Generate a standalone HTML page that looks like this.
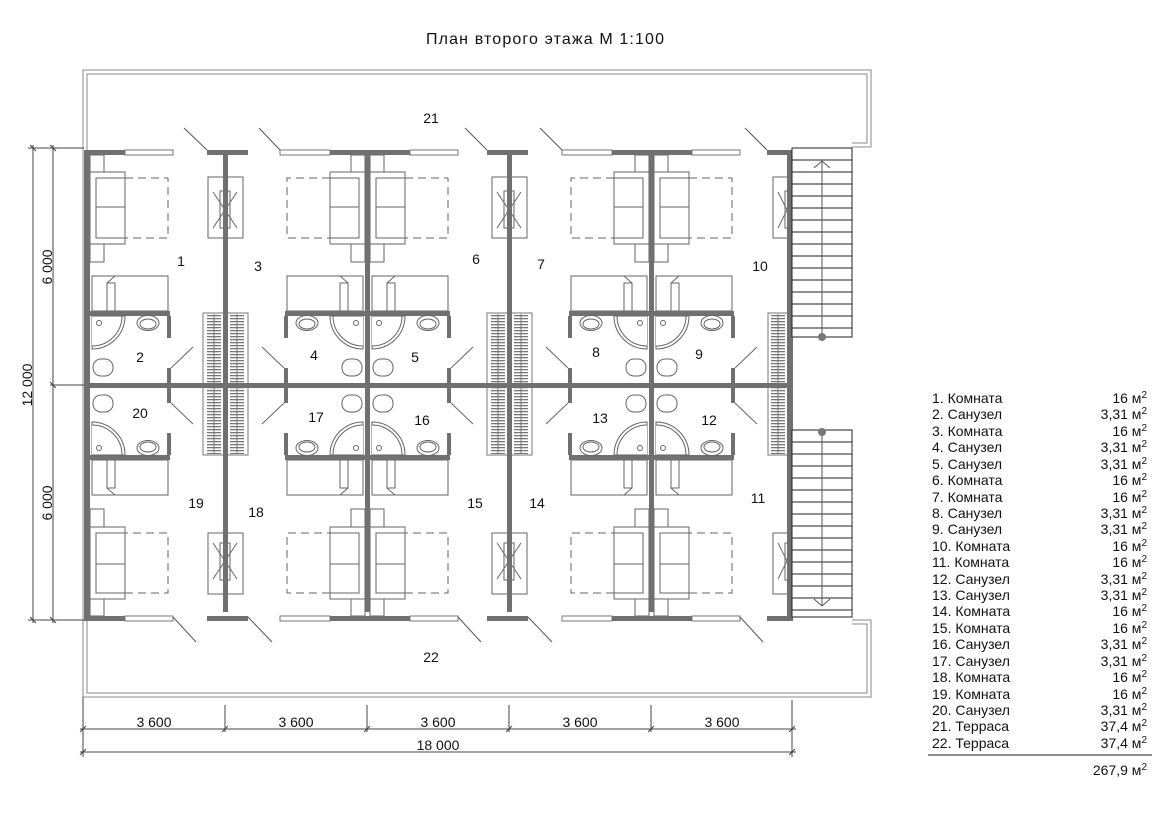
<!DOCTYPE html>
<html><head><meta charset="utf-8"><style>
html,body{margin:0;padding:0;background:#fff;}
svg{display:block;font-family:"Liberation Sans","DejaVu Sans",sans-serif;}
</style></head><body>
<svg width="1169" height="826" viewBox="0 0 1169 826" xmlns="http://www.w3.org/2000/svg">
<defs>
<pattern id="hatch" width="4" height="3" patternUnits="userSpaceOnUse"><rect width="4" height="3" fill="#fff"/><rect y="0" width="4" height="1.3" fill="#777"/></pattern>
<g id="bed" fill="#fff" stroke="#666" stroke-width="1">
 <rect x="0" y="155" width="14" height="17"/>
 <rect x="0" y="244" width="14" height="18"/>
 <rect x="35" y="178" width="43" height="60" stroke-dasharray="8,5"/>
 <rect x="0" y="172" width="35" height="72"/>
 <rect x="6" y="178" width="29" height="60"/>
 <line x1="6" y1="207" x2="35" y2="207"/>
</g>
<g id="bath" fill="#fff" stroke="#666" stroke-width="1">
 <rect x="2" y="276" width="76" height="35"/>
 <line x1="17" y1="283" x2="17" y2="311"/>
 <rect x="17" y="283" width="8" height="28"/>
 <path d="M17,283 L25,276"/>
 <rect x="0" y="311" width="80" height="5" fill="#707070" stroke="none"/>
 <rect x="77" y="316" width="4" height="22" fill="#707070" stroke="none"/>
 <path d="M2,316 H35 A33,33 0 0 1 2,349 Z"/>
 <path d="M2,316 H32 A30,30 0 0 1 2,346"/>
 <circle cx="9" cy="323" r="2.5"/>
 <ellipse cx="58" cy="323" rx="11" ry="7.5"/>
 <ellipse cx="58" cy="324" rx="8" ry="5"/>
 <rect x="3" y="359" width="20" height="17" rx="8"/>
 <rect x="77" y="368" width="4" height="15" fill="#707070" stroke="none"/>
 <line x1="81" y1="368" x2="103" y2="347"/>
</g>
<g id="ward" fill="#fff" stroke="#666" stroke-width="1">
 <rect x="-17" y="177" width="35" height="61"/>
 <rect x="-5" y="191" width="10" height="37"/>
 <path d="M-12,192 L12,228 M12,192 L-12,228"/>
</g>
<g id="rack" stroke="#777" stroke-width="1">
 <rect x="-22" y="313" width="45" height="142" fill="#fff"/>
 <rect x="-18" y="314" width="14" height="140" fill="url(#hatch)" stroke="none"/>
 <rect x="5" y="314" width="14" height="140" fill="url(#hatch)" stroke="none"/>
 <line x1="-11" y1="314" x2="-11" y2="454"/>
 <line x1="12" y1="314" x2="12" y2="454"/>
</g>
<g id="half">
 <use href="#bed" transform="translate(90,0)"/>
 <use href="#bed" transform="translate(365,0) scale(-1,1)"/>
 <use href="#bed" transform="translate(370,0)"/>
 <use href="#bed" transform="translate(649,0) scale(-1,1)"/>
 <use href="#bed" transform="translate(654,0)"/>
 <use href="#bath" transform="translate(90,0)"/>
 <use href="#bath" transform="translate(365,0) scale(-1,1)"/>
 <use href="#bath" transform="translate(370,0)"/>
 <use href="#bath" transform="translate(649,0) scale(-1,1)"/>
 <use href="#bath" transform="translate(654,0)"/>
 <use href="#ward" transform="translate(225,0)"/>
 <use href="#ward" transform="translate(509,0)"/>
 <g transform="translate(790,0)"><rect x="-17" y="177" width="17" height="61" fill="#fff" stroke="#666"/><rect x="-5" y="191" width="5" height="37" fill="#fff" stroke="#666"/><path d="M-12,192 L-3,210 L-12,228" fill="none" stroke="#666"/></g>
 <g fill="#707070">
  <rect x="84" y="150" width="41" height="5"/><rect x="207" y="150" width="41" height="5"/>
  <rect x="330" y="150" width="80" height="5"/><rect x="487" y="150" width="41" height="5"/>
  <rect x="612" y="150" width="80" height="5"/><rect x="767" y="150" width="26" height="5"/>
 </g>
 <g fill="#fff" stroke="#777" stroke-width="1">
  <rect x="125" y="150" width="48" height="5"/><rect x="280" y="150" width="50" height="5"/>
  <rect x="410" y="150" width="48" height="5"/><rect x="562" y="150" width="50" height="5"/>
  <rect x="692" y="150" width="48" height="5"/>
 </g>
</g>
</defs>

<text x="545" y="44" font-size="16" text-anchor="middle" textLength="238" fill="#111">План второго этажа М 1:100</text>

<g fill="none" stroke="#888" stroke-width="1">
 <path d="M83,697 V70 H871 V147 H852"/>
 <path d="M87,155 V74 H867 V143 H852"/>
 <path d="M852,620 H871 V697 H83"/>
 <path d="M852,624 H867 V693 H87 V612"/>
</g>

<use href="#half"/>
<g transform="translate(0,771) scale(1,-1)"><use href="#half"/></g>

<use href="#rack" transform="translate(225,0)"/>
<use href="#rack" transform="translate(509,0)"/>
<g stroke="#777"><rect x="768" y="313" width="20" height="142" fill="#fff"/><rect x="771" y="314" width="14" height="140" fill="url(#hatch)" stroke="none"/><line x1="778" y1="314" x2="778" y2="454"/></g>

<g fill="#707070">
 <rect x="84" y="150" width="6" height="467"/>
 <rect x="787" y="150" width="6" height="467"/>
 <rect x="90" y="383" width="700" height="5"/>
 <rect x="223" y="155" width="5" height="457"/>
 <rect x="365" y="155" width="5" height="457"/>
 <rect x="507" y="155" width="5" height="457"/>
 <rect x="649" y="155" width="5" height="457"/>
</g>

<g stroke="#555" stroke-width="1">
 <line x1="207" y1="150" x2="184" y2="128"/>
 <line x1="280" y1="150" x2="259" y2="128"/>
 <line x1="487" y1="150" x2="465" y2="128"/>
 <line x1="562" y1="150" x2="540" y2="128"/>
 <line x1="767" y1="150" x2="745" y2="128"/>
 <line x1="173" y1="617" x2="196" y2="642"/>
 <line x1="248" y1="617" x2="272" y2="642"/>
 <line x1="458" y1="617" x2="481" y2="642"/>
 <line x1="528" y1="617" x2="552" y2="642"/>
 <line x1="740" y1="617" x2="763" y2="642"/>
</g>

<g fill="#fff" stroke="#222" stroke-width="1">
 <rect x="792" y="148" width="60" height="189"/>
 <path d="M792,160H852M792,172H852M792,184H852M792,196H852M792,208H852M792,220H852M792,232H852M792,244H852M792,256H852M792,268H852M792,280H852M792,292H852M792,304H852M792,316H852M792,328H852"/>
 <rect x="792" y="430" width="60" height="187"/>
 <path d="M792,442H852M792,454H852M792,466H852M792,478H852M792,490H852M792,502H852M792,514H852M792,526H852M792,538H852M792,550H852M792,562H852M792,574H852M792,586H852M792,598H852M792,610H852"/>
</g>
<g stroke="#555" stroke-width="1" fill="none">
 <line x1="822" y1="162" x2="822" y2="337"/>
 <path d="M814,168 L822,161 L830,168"/>
 <line x1="822" y1="432" x2="822" y2="606"/>
 <path d="M814,599 L822,606 L830,599"/>
</g>
<circle cx="822" cy="337" r="4" fill="#777"/>
<circle cx="822" cy="432" r="4" fill="#777"/>

<g font-size="14" fill="#111" text-anchor="middle">
 <text x="181" y="266">1</text><text x="258" y="271">3</text><text x="476" y="264">6</text>
 <text x="541" y="269">7</text><text x="760" y="271">10</text>
 <text x="140" y="362">2</text><text x="314" y="360">4</text><text x="415" y="362">5</text>
 <text x="596" y="357">8</text><text x="699" y="359">9</text>
 <text x="140" y="418">20</text><text x="316" y="422">17</text><text x="422" y="425">16</text>
 <text x="600" y="423">13</text><text x="709" y="425">12</text>
 <text x="196" y="508">19</text><text x="256" y="517">18</text><text x="475" y="508">15</text>
 <text x="537" y="508">14</text><text x="758" y="503">11</text>
 <text x="431" y="123">21</text><text x="431" y="662">22</text>
</g>

<g stroke="#444" stroke-width="1" fill="none">
 <line x1="83" y1="697" x2="83" y2="757"/>
 <line x1="225" y1="705" x2="225" y2="732"/>
 <line x1="367" y1="705" x2="367" y2="732"/>
 <line x1="509" y1="705" x2="509" y2="732"/>
 <line x1="651" y1="705" x2="651" y2="732"/>
 <line x1="792" y1="700" x2="792" y2="757"/>
 <line x1="80" y1="729" x2="796" y2="729"/>
 <line x1="80" y1="752" x2="796" y2="752"/>
 <path d="M80,732L86,726M222,732L228,726M364,732L370,726M506,732L512,726M648,732L654,726M789,732L795,726M80,755L86,749M789,755L795,749"/>
 <line x1="28" y1="148" x2="84" y2="148"/>
 <line x1="50" y1="385" x2="84" y2="385"/>
 <line x1="28" y1="620" x2="84" y2="620"/>
 <line x1="33" y1="145" x2="33" y2="623"/>
 <line x1="53" y1="145" x2="53" y2="623"/>
 <path d="M30,145L36,151M50,145L56,151M50,382L56,388M30,617L36,623M50,617L56,623"/>
</g>
<g font-size="14" fill="#111" text-anchor="middle">
 <text x="154" y="727">3 600</text><text x="296" y="727">3 600</text><text x="438" y="727">3 600</text>
 <text x="580" y="727">3 600</text><text x="722" y="727">3 600</text>
 <text x="438" y="750">18 000</text>
 <text transform="translate(52,267) rotate(-90)">6 000</text>
 <text transform="translate(52,503) rotate(-90)">6 000</text>
 <text transform="translate(32,385) rotate(-90)">12 000</text>
</g>

<g font-size="14" fill="#111">
 <text x="932" y="403">1. Комната</text>
 <text x="932" y="419">2. Санузел</text>
 <text x="932" y="436">3. Комната</text>
 <text x="932" y="452">4. Санузел</text>
 <text x="932" y="469">5. Санузел</text>
 <text x="932" y="485">6. Комната</text>
 <text x="932" y="502">7. Комната</text>
 <text x="932" y="518">8. Санузел</text>
 <text x="932" y="534">9. Санузел</text>
 <text x="932" y="551">10. Комната</text>
 <text x="932" y="567">11. Комната</text>
 <text x="932" y="584">12. Санузел</text>
 <text x="932" y="600">13. Санузел</text>
 <text x="932" y="616">14. Комната</text>
 <text x="932" y="633">15. Комната</text>
 <text x="932" y="649">16. Санузел</text>
 <text x="932" y="666">17. Санузел</text>
 <text x="932" y="682">18. Комната</text>
 <text x="932" y="699">19. Комната</text>
 <text x="932" y="715">20. Санузел</text>
 <text x="932" y="731">21. Терраса</text>
 <text x="932" y="748">22. Терраса</text>
</g>
<g font-size="14" fill="#111" text-anchor="end">
 <text x="1147" y="403">16 м<tspan font-size="10" dy="-5">2</tspan></text>
 <text x="1147" y="419">3,31 м<tspan font-size="10" dy="-5">2</tspan></text>
 <text x="1147" y="436">16 м<tspan font-size="10" dy="-5">2</tspan></text>
 <text x="1147" y="452">3,31 м<tspan font-size="10" dy="-5">2</tspan></text>
 <text x="1147" y="469">3,31 м<tspan font-size="10" dy="-5">2</tspan></text>
 <text x="1147" y="485">16 м<tspan font-size="10" dy="-5">2</tspan></text>
 <text x="1147" y="502">16 м<tspan font-size="10" dy="-5">2</tspan></text>
 <text x="1147" y="518">3,31 м<tspan font-size="10" dy="-5">2</tspan></text>
 <text x="1147" y="534">3,31 м<tspan font-size="10" dy="-5">2</tspan></text>
 <text x="1147" y="551">16 м<tspan font-size="10" dy="-5">2</tspan></text>
 <text x="1147" y="567">16 м<tspan font-size="10" dy="-5">2</tspan></text>
 <text x="1147" y="584">3,31 м<tspan font-size="10" dy="-5">2</tspan></text>
 <text x="1147" y="600">3,31 м<tspan font-size="10" dy="-5">2</tspan></text>
 <text x="1147" y="616">16 м<tspan font-size="10" dy="-5">2</tspan></text>
 <text x="1147" y="633">16 м<tspan font-size="10" dy="-5">2</tspan></text>
 <text x="1147" y="649">3,31 м<tspan font-size="10" dy="-5">2</tspan></text>
 <text x="1147" y="666">3,31 м<tspan font-size="10" dy="-5">2</tspan></text>
 <text x="1147" y="682">16 м<tspan font-size="10" dy="-5">2</tspan></text>
 <text x="1147" y="699">16 м<tspan font-size="10" dy="-5">2</tspan></text>
 <text x="1147" y="715">3,31 м<tspan font-size="10" dy="-5">2</tspan></text>
 <text x="1147" y="731">37,4 м<tspan font-size="10" dy="-5">2</tspan></text>
 <text x="1147" y="748">37,4 м<tspan font-size="10" dy="-5">2</tspan></text>
 <text x="1147" y="775">267,9 м<tspan font-size="10" dy="-5">2</tspan></text>
</g>
<line x1="928" y1="755" x2="1152" y2="755" stroke="#666" stroke-width="1.5"/>
</svg>
</body></html>
